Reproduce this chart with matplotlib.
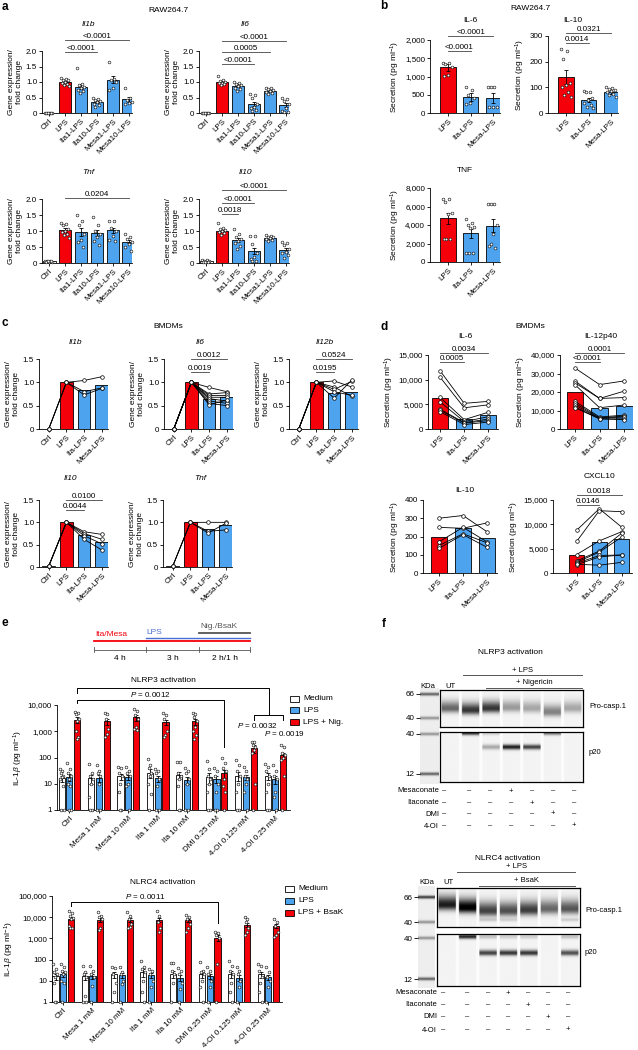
import numpy as np
import matplotlib
matplotlib.use('Agg')
import matplotlib.pyplot as plt
from matplotlib.patches import Rectangle
from matplotlib.ticker import NullLocator

plt.rcParams['font.family'] = ['Liberation Sans', 'DejaVu Sans']
plt.rcParams['font.size'] = 6
plt.rcParams['mathtext.fontset'] = 'custom'
plt.rcParams['mathtext.rm'] = 'Liberation Sans'
plt.rcParams['mathtext.it'] = 'Liberation Sans:italic'
plt.rcParams['axes.linewidth'] = 0.6

W, H = 638, 1050
RED = '#f5000a'
BLUE = '#4ea3ee'
LINE = '#444444'
FS = 5.8

# ---------------- panel a data (RAW264.7 qPCR) ----------------
a_cats = ['Ctrl', 'LPS', 'Ita1-LPS', 'Ita10-LPS', 'Mesa1-LPS', 'Mesa10-LPS']
a_il1b_mean = [0.0, 1.0, 0.85, 0.36, 1.08, 0.44]
a_il1b_sem = [0.0, 0.04, 0.08, 0.04, 0.1, 0.08]
a_il1b_pts = [[0.01] * 8,
              [1.12, 1.1, 1.08, 1.05, 1.0, 0.97, 0.93, 0.9, 0.88],
              [1.45, 0.95, 0.9, 0.85, 0.8, 0.75, 0.7, 0.65],
              [0.5, 0.45, 0.42, 0.38, 0.35, 0.3, 0.25, 0.2],
              [1.65, 1.1, 1.05, 1.0, 0.8, 0.75],
              [0.82, 0.5, 0.42, 0.35, 0.32, 0.3]]
a_il6_mean = [0.0, 1.0, 0.88, 0.3, 0.72, 0.25]
a_il6_sem = [0.0, 0.03, 0.04, 0.07, 0.03, 0.07]
a_il6_pts = [[0.01] * 8,
             [1.2, 1.06, 1.04, 1.0, 0.98, 0.96, 0.93, 0.9],
             [1.0, 0.97, 0.93, 0.9, 0.86, 0.82, 0.77, 0.72],
             [0.62, 0.58, 0.5, 0.3, 0.2, 0.15, 0.1, 0.08],
             [0.82, 0.8, 0.76, 0.73, 0.7, 0.68, 0.65, 0.62],
             [0.5, 0.45, 0.4, 0.3, 0.15, 0.05, 0.03, 0.02]]
a_tnf_mean = [0.05, 1.03, 0.97, 0.93, 1.02, 0.67]
a_tnf_sem = [0.01, 0.05, 0.12, 0.1, 0.08, 0.06]
a_tnf_pts = [[0.06, 0.05, 0.05, 0.04, 0.04, 0.03, 0.05, 0.06],
             [1.25, 1.22, 1.18, 1.05, 1.0, 0.97, 0.92, 0.88, 0.78],
             [1.5, 1.3, 1.2, 0.9, 0.72, 0.65, 0.5],
             [1.45, 1.2, 1.0, 0.9, 0.8, 0.7, 0.55],
             [1.3, 1.3, 1.1, 1.0, 0.85, 0.72, 0.7],
             [0.9, 0.8, 0.75, 0.65, 0.6, 0.5, 0.38]]
a_il10_mean = [0.05, 1.0, 0.72, 0.37, 0.78, 0.4]
a_il10_sem = [0.01, 0.04, 0.06, 0.1, 0.03, 0.06]
a_il10_pts = [[0.1, 0.08, 0.06, 0.05, 0.04, 0.03, 0.03, 0.04],
              [1.25, 1.1, 1.05, 1.02, 1.0, 0.97, 0.93, 0.88],
              [1.05, 0.9, 0.8, 0.75, 0.7, 0.62, 0.52, 0.45],
              [0.85, 0.85, 0.6, 0.3, 0.2, 0.12, 0.06, 0.05],
              [0.88, 0.85, 0.82, 0.8, 0.78, 0.75, 0.72, 0.7],
              [0.65, 0.62, 0.55, 0.45, 0.35, 0.3, 0.25, 0.15]]

# ---------------- panel b data (RAW264.7 secretion) ----------------
b_cats = ['LPS', 'Ita-LPS', 'Mesa-LPS']
b_il6_mean = [1250, 440, 415]
b_il6_sem = [90, 100, 130]
b_il6_pts = [[1380, 1370, 1330, 1250, 1040, 1020],
             [700, 640, 480, 400, 280, 250],
             [700, 700, 700, 170, 170, 170]]
b_il10_mean = [140, 50, 80]
b_il10_sem = [27, 8, 5]
b_il10_pts = [[250, 242, 210, 115, 108, 100, 80, 70, 62],
              [85, 82, 80, 60, 50, 40, 30, 25, 20],
              [100, 98, 92, 88, 85, 80, 75, 70, 62]]
b_tnf_mean = [4750, 3100, 3900]
b_tnf_sem = [600, 500, 700]
b_tnf_pts = [[6800, 6800, 6500, 5300, 5200, 2500, 2500, 2500],
             [4700, 4200, 4000, 3800, 3700, 1000, 1000, 1000],
             [6300, 6300, 6300, 4000, 3000, 1700, 1500, 1900]]

# ---------------- panel c data (BMDM qPCR, paired donors) ----------------
c_cats = ['Ctrl', 'LPS', 'Ita-LPS', 'Mesa-LPS']
c_il1b_bar = [0.0, 1.0, 0.84, 0.95]
c_il1b_don = [[0, 1, 1.04, 1.12], [0, 1, 0.80, 0.88], [0, 1, 0.73, 0.87]]
c_il6_bar = [0.0, 1.0, 0.65, 0.68]
c_il6_don = [[0, 1, 0.89, 0.80], [0, 1, 0.75, 0.78], [0, 1, 0.72, 0.72], [0, 1, 0.68, 0.68],
             [0, 1, 0.65, 0.60], [0, 1, 0.60, 0.55], [0, 1, 0.55, 0.50], [0, 1, 0.52, 0.62]]
c_il12b_bar = [0.0, 1.0, 0.78, 0.80]
c_il12b_don = [[0, 1, 1.03, 0.90], [0, 1, 0.90, 0.70], [0, 1, 0.85, 1.02],
               [0, 1, 0.80, 0.72], [0, 1, 0.66, 1.05]]
c_il10_bar = [0.02, 1.0, 0.72, 0.55]
c_il10_don = [[0.02, 1, 0.79, 0.73], [0.02, 1, 0.75, 0.62], [0.02, 1, 0.70, 0.52], [0.02, 1, 0.62, 0.38]]
c_tnf_bar = [0.02, 1.0, 0.85, 0.93]
c_tnf_don = [[0.02, 1, 1.0, 1.0], [0.02, 1, 0.80, 0.83], [0.02, 1, 0.76, 0.98]]

# ---------------- panel d data (BMDM secretion, paired donors) ----------------
d_cats = ['LPS', 'Ita-LPS', 'Mesa-LPS']
d_il6_bar = [6300, 2100, 2800]
d_il6_don = [[11800, 5200, 5600], [10500, 4300, 4900], [6400, 1900, 3400], [5500, 1500, 2500],
             [4000, 1300, 2000], [3800, 1200, 1700], [3500, 900, 1400]]
d_il12_bar = [19800, 11500, 12600]
d_il12_don = [[33000, 24000, 26000], [26000, 16500, 20500], [25000, 16500, 17000],
              [24000, 11500, 13000], [15000, 6500, 7500], [14000, 6000, 7000],
              [13000, 5800, 6500], [12000, 5500, 5500], [11500, 5500, 5000]]
d_il10_bar = [198, 245, 192]
d_il10_don = [[300, 315, 225], [250, 245, 275], [170, 250, 170], [150, 215, 165], [135, 210, 140]]
d_cx_bar = [3700, 6300, 7000]
d_cx_don = [[8800, 13200, 9400], [6500, 12800, 12600], [3800, 6600, 8500], [2500, 4500, 8200],
            [2200, 4300, 7400], [2000, 3600, 3700], [1700, 3300, 3700], [1800, 1600, 2200]]

# ---------------- panel e data (IL-1beta, log) ----------------
e_groups = ['Ctrl', 'Mesa 1 mM', 'Mesa 10 mM', 'Ita 1 mM', 'Ita 10 mM',
            'DMI 0.25 mM', '4-OI 0.125 mM', '4-OI 0.25 mM']
nlrp3_med = [16, 16, 19, 26, 22, 18, 20, 20]
nlrp3_med_sem = [4, 6, 5, 10, 7, 8, 7, 6]
nlrp3_lps = [18, 17, 18, 16, 14, 15, 18, 15]
nlrp3_lps_sem = [5, 5, 4, 4, 4, 4, 4, 5]
nlrp3_nig = [2700, 2400, 3400, 2300, 2400, 25, 230, 120]
nlrp3_nig_sem = [700, 600, 900, 500, 600, 8, 80, 30]
nlrp3_med_pts = [[35, 30, 25, 20, 18, 15, 8, 1, 1], [55, 25, 20, 15, 10, 3, 1, 1],
                 [45, 40, 25, 20, 10, 5, 1, 1], [90, 50, 40, 25, 20, 10, 4, 1],
                 [70, 70, 25, 20, 15, 8, 1, 1], [75, 35, 20, 15, 10, 5, 1, 1],
                 [80, 50, 30, 20, 10, 5, 1, 1], [55, 45, 30, 20, 10, 5, 1, 1]]
nlrp3_lps_pts = [[60, 35, 25, 20, 15, 10, 8, 1, 1], [50, 30, 25, 20, 10, 1, 1],
                 [45, 30, 25, 20, 10, 8, 1], [35, 30, 25, 15, 8, 1, 1],
                 [40, 30, 25, 15, 10, 1, 1], [40, 30, 20, 10, 5, 1, 1],
                 [45, 30, 20, 15, 10, 5, 1], [50, 30, 20, 15, 5, 3, 1]]
nlrp3_nig_pts = [[5500, 5000, 4500, 3000, 2500, 1000, 600, 500], [5000, 4500, 3000, 1200, 800, 600],
                 [7000, 6000, 4000, 3000, 1500, 1200, 1100], [5000, 4000, 3000, 1000, 700, 600],
                 [5000, 4500, 3500, 2500, 1500, 1000, 700, 500], [95, 60, 40, 30, 15, 8, 5, 1],
                 [400, 400, 300, 250, 200, 150, 10, 1], [300, 250, 150, 120, 100, 80, 20, 1]]

nlrc4_med = [16, 17, 20, 25, 22, 20, 21, 20]
nlrc4_med_sem = [5, 6, 6, 10, 8, 7, 8, 7]
nlrc4_lps = [20, 17, 19, 18, 14, 16, 14, 15]
nlrc4_lps_sem = [5, 5, 5, 5, 4, 4, 4, 4]
nlrc4_bsak = [8500, 7500, 7500, 7500, 7000, 1100, 4500, 4000]
nlrc4_bsak_sem = [1500, 1500, 1500, 1800, 1200, 350, 900, 800]
nlrc4_med_pts = [[60, 35, 25, 20, 15, 8, 1, 1], [50, 25, 20, 15, 2, 1, 1], [45, 40, 20, 8, 3, 1],
                 [90, 45, 35, 25, 10, 3, 1], [70, 70, 30, 20, 8, 1], [80, 30, 25, 20, 10, 5, 1],
                 [90, 50, 30, 20, 8, 3, 1], [60, 50, 30, 15, 8, 3, 1]]
nlrc4_lps_pts = [[60, 45, 30, 25, 20, 10, 8, 1], [50, 30, 20, 15, 6, 1], [45, 25, 20, 10, 7, 1],
                 [35, 30, 20, 10, 5, 1], [40, 30, 20, 8, 4, 1], [45, 30, 20, 10, 5, 1],
                 [45, 30, 20, 10, 5, 1], [45, 25, 15, 10, 5, 1]]
nlrc4_bsak_pts = [[20000, 15000, 12000, 9000, 8000, 4000, 3000, 3000],
                  [18000, 12000, 10000, 8000, 3000, 2500], [18000, 12000, 8000, 5000, 3500, 3000],
                  [20000, 12000, 6000, 3000, 2000], [13000, 10000, 8000, 5000, 3000, 2000],
                  [2000, 1800, 1500, 1000, 60, 1], [10000, 8000, 6000, 3000, 2000, 1500],
                  [8000, 6000, 4000, 2000, 1500, 1200]]

# ---------------- panel f data (capillary western lanes) ----------------
f_rows = ['Mesaconate', 'Itaconate', 'DMI', '4-OI']
f_signs = [[0, 0, 0, 1, 0, 0, 0], [0, 0, 0, 0, 1, 0, 0], [0, 0, 0, 0, 0, 1, 0], [0, 0, 0, 0, 0, 0, 1]]
kda_labels = ['66', '40', '40', '12']
# band intensity per lane, centre (fraction of box height)
p3_pro_int = [0.55, 0.75, 0.75, 0.35, 0.3, 0.45, 0.3]
p3_pro_pos = [0.5, 0.55, 0.5, 0.48, 0.5, 0.6, 0.5]
p3_p20_int = [0, 0, 0.3, 0.85, 0.7, 0, 0]
p3_top_int = [0, 0.75, 0.15, 0, 0, 0.5, 0]
c4_pro_int = [0.85, 1.0, 0.7, 0.65, 0.72, 0.55, 0.62]
c4_pro_pos = [0.45, 0.52, 0.6, 0.6, 0.58, 0.55, 0.55]
c4_low_int = [0, 0, 0.15, 0.12, 0, 0, 0.15]
c4_p20_int = [0, 0, 0.7, 0.75, 0.75, 0, 0.65]
c4_top_int = [0, 0.8, 0.2, 0.15, 0.15, 0, 0.2]

fig = plt.figure(figsize=(W / 100, H / 100), dpi=100)


def px_axes(box):
    x0, y0, x1, y1 = box
    return fig.add_axes([x0 / W, 1 - y1 / H, (x1 - x0) / W, (y1 - y0) / H])


def spread(n, w):
    return w * np.array([((i * 0.618) % 1) * 2 - 1 for i in range(n)])


def base_style(ax):
    for s in ['top', 'right']:
        ax.spines[s].set_visible(False)
    ax.tick_params(length=2, width=0.6, pad=1.5, labelsize=FS)
    ax.patch.set_alpha(0)


def set_cats(ax, cats, xlim):
    ax.set_xticks(np.arange(len(cats)))
    ax.set_xticklabels(cats, rotation=45, ha='right', rotation_mode='anchor', fontsize=FS)
    ax.set_xlim(*xlim)


def set_y(ax, lim, ticks, labels, ylabel):
    ax.set_ylim(*lim)
    ax.set_yticks(ticks)
    ax.set_yticklabels(labels)
    ax.set_ylabel(ylabel, fontsize=6, labelpad=2)


def bracket(ax, x1, x2, y, label):
    ax.plot([x1, x2], [y, y], color=LINE, lw=0.6, clip_on=False)
    ax.text((x1 + x2) / 2, y, label, ha='center', va='bottom', fontsize=FS, clip_on=False)


def dot_bars(ax, means, sems, pts, colors, width):
    x = np.arange(len(means))
    ax.bar(x, means, width, color=colors, edgecolor='black', linewidth=0.6, zorder=2)
    ax.errorbar(x, means, yerr=sems, fmt='none', ecolor='black', elinewidth=0.6,
                capsize=1.5, capthick=0.6, zorder=3)
    for i, p in enumerate(pts):
        ax.scatter(x[i] + spread(len(p), width * 0.33), p, s=4, facecolor='white',
                   edgecolor='black', linewidths=0.4, zorder=4, clip_on=False)


def paired(ax, bars, donors, colors, width):
    x = np.arange(len(bars))
    ax.bar(x, bars, width, color=colors, edgecolor='black', linewidth=0.6, zorder=2)
    for d in donors:
        ax.plot(x, d, color='black', lw=0.6, marker='o', ms=2.6, mfc='white', mec='black',
                mew=0.5, zorder=3, clip_on=False)


def grouped_log(ax, means_l, sems_l, pts_l, colors, offsets, width):
    x = np.arange(len(means_l[0]))
    for m, s, p, c, o in zip(means_l, sems_l, pts_l, colors, offsets):
        m = np.asarray(m, float)
        ax.bar(x + o, m - 1, width, bottom=1, color=c, edgecolor='black', linewidth=0.6, zorder=2)
        ax.errorbar(x + o, m, yerr=s, fmt='none', ecolor='black', elinewidth=0.6,
                    capsize=1.2, capthick=0.6, zorder=3)
        for i, pp in enumerate(p):
            ax.scatter(x[i] + o + spread(len(pp), width * 0.35), pp, s=4, facecolor='white',
                       edgecolor='black', linewidths=0.4, zorder=4, clip_on=False)


def gel_box(ax, bands, n=7, rows=120, cols=280):
    ys = (np.arange(rows) + 0.5) / rows
    xs = (np.arange(cols) + 0.5) / cols * n
    img = np.full((rows, cols), 0.985)
    in_lane = np.abs((xs % 1) - 0.5) < 0.42
    img[:, in_lane] -= 0.03
    for inten, pos, sup, sdn in bands:
        for k in range(n):
            if inten[k] <= 0:
                continue
            sig = np.where(ys < pos[k], sup, sdn)
            prof = np.exp(-0.5 * ((ys - pos[k]) / sig) ** 2)
            cols_k = in_lane & (np.floor(xs) == k)
            img[:, cols_k] -= inten[k] * prof[:, None]
    ax.imshow(np.clip(img, 0, 1), cmap='gray', vmin=0, vmax=1, aspect='auto',
              extent=(0, n, 1, 0), interpolation='bilinear')
    ax.set_xticks([])
    ax.set_yticks([])
    for s in ax.spines.values():
        s.set_linewidth(0.9)


def marker_lane(ax, ypos, strength, ybot, ytop):
    ys = np.linspace(ytop, ybot, 300)
    col = np.full(ys.size, 0.93)
    for y, a in zip(ypos, strength):
        col -= a * np.exp(-0.5 * ((ys - y) / 1.1) ** 2)
    ax.imshow(np.tile(np.clip(col, 0, 1)[:, None], (1, 10)), cmap='gray', vmin=0, vmax=1,
              aspect='auto', extent=(0, 1, ybot, ytop), interpolation='bilinear')
    ax.set_ylim(ybot, ytop)
    ax.set_yticks(ypos)
    ax.set_yticklabels(kda_labels)
    ax.set_xticks([])
    ax.tick_params(axis='y', length=3, width=0.6, pad=1, labelsize=FS)
    for s in ax.spines.values():
        s.set_visible(False)


GENE = 'Gene expression/\nfold change'
SEC = r'Secretion (pg ml$^{-1}$)'
IL1B = r'IL-1$\beta$ (pg ml$^{-1}$)'

# ---------------- panel a ----------------
a_cols = ['white', RED] + [BLUE] * 4
a_specs = [((42, 51, 132, 113), a_il1b_mean, a_il1b_sem, a_il1b_pts,
            [(1, 5, 2.35, '<0.0001'), (1, 3, 1.97, '<0.0001')]),
           ((199, 51, 289, 113), a_il6_mean, a_il6_sem, a_il6_pts,
            [(1, 5, 2.32, '<0.0001'), (1, 4, 1.97, '0.0005'), (1, 3, 1.58, '<0.0001')]),
           ((42, 199, 132, 263), a_tnf_mean, a_tnf_sem, a_tnf_pts,
            [(1, 5, 2.02, '0.0204')]),
           ((199, 199, 289, 263), a_il10_mean, a_il10_sem, a_il10_pts,
            [(1, 5, 2.28, '<0.0001'), (1, 3, 1.88, '<0.0001'), (1, 2, 1.53, '0.0018')])]
for box, m, s, p, brs in a_specs:
    ax = px_axes(box)
    base_style(ax)
    dot_bars(ax, m, s, p, a_cols, 0.8)
    set_cats(ax, a_cats, (-0.45, 5.2))
    set_y(ax, (0, 2.0), [0, 0.5, 1.0, 1.5, 2.0], ['0', '0.5', '1.0', '1.5', '2.0'], GENE)
    for b in brs:
        bracket(ax, *b)

# ---------------- panel b ----------------
b_cols = [RED, BLUE, BLUE]
b_specs = [((430, 40, 500, 113), b_il6_mean, b_il6_sem, b_il6_pts, 2000, 500,
            [(0, 2, 2110, '<0.0001'), (0, 1, 1700, '<0.0001')]),
           ((548, 36, 618, 113), b_il10_mean, b_il10_sem, b_il10_pts, 300, 100,
            [(0, 2, 312, '0.0321'), (0, 1, 273, '0.0014')]),
           ((430, 188, 500, 262), b_tnf_mean, b_tnf_sem, b_tnf_pts, 8000, 2000, [])]
for box, m, s, p, top, step, brs in b_specs:
    ax = px_axes(box)
    base_style(ax)
    dot_bars(ax, m, s, p, b_cols, 0.68)
    set_cats(ax, b_cats, (-0.8, 2.3))
    ticks = np.arange(0, top + 1, step)
    set_y(ax, (0, top), ticks, [f'{int(t):,}' for t in ticks], SEC)
    for b in brs:
        bracket(ax, *b)

# ---------------- panel c ----------------
c_cols = ['white', RED, BLUE, BLUE]
c_specs = [((39, 359, 108, 429), c_il1b_bar, c_il1b_don, []),
           ((164, 359, 233, 429), c_il6_bar, c_il6_don,
            [(1, 3, 1.5, '0.0012'), (1, 2, 1.22, '0.0019')]),
           ((289, 359, 358, 429), c_il12b_bar, c_il12b_don,
            [(1, 3, 1.5, '0.0524'), (1, 2, 1.22, '0.0195')]),
           ((39, 500, 108, 567), c_il10_bar, c_il10_don,
            [(1, 3, 1.5, '0.0100'), (1, 2, 1.28, '0.0044')]),
           ((163, 500, 232, 567), c_tnf_bar, c_tnf_don, [])]
for box, bars, don, brs in c_specs:
    ax = px_axes(box)
    base_style(ax)
    paired(ax, bars, don, c_cols, 0.72)
    set_cats(ax, c_cats, (-0.55, 3.35))
    set_y(ax, (0, 1.5), [0, 0.5, 1.0, 1.5], ['0', '0.5', '1.0', '1.5'], GENE)
    for b in brs:
        bracket(ax, *b)

# ---------------- panel d ----------------
d_specs = [((428, 355, 498, 429), d_il6_bar, d_il6_don, 15000, 5000, (-0.5, 2.4),
            [(0, 2, 15400, '0.0034'), (0, 1, 13580, '0.0005')]),
           ((560, 355, 633, 429), d_il12_bar, d_il12_don, 40000, 10000, (-0.6, 2.35),
            [(0, 2, 41080, '0.0001'), (0, 1, 36200, '<0.0001')]),
           ((423, 500, 497, 573), d_il10_bar, d_il10_don, 400, 100, (-0.65, 2.4), []),
           ((553, 500, 632, 573), d_cx_bar, d_cx_don, 15000, 5000, (-1.05, 2.45),
            [(0, 2, 16030, '0.0018'), (0, 1, 13970, '0.0146')])]
for box, bars, don, top, step, xl, brs in d_specs:
    ax = px_axes(box)
    base_style(ax)
    paired(ax, bars, don, b_cols, 0.66)
    set_cats(ax, d_cats, xl)
    ticks = np.arange(0, top + 1, step)
    set_y(ax, (0, top), ticks, [f'{int(t):,}' for t in ticks], SEC)
    for b in brs:
        bracket(ax, *b)

# ---------------- panel e ----------------
e_cols = ['white', BLUE, RED]
e_off = [-0.26, 0.0, 0.27]
e_specs = [((57, 705, 290, 810), [nlrp3_med, nlrp3_lps, nlrp3_nig],
            [nlrp3_med_sem, nlrp3_lps_sem, nlrp3_nig_sem],
            [nlrp3_med_pts, nlrp3_lps_pts, nlrp3_nig_pts], 1e4, (-0.42, 7.5)),
           ((52, 896, 282, 1002), [nlrc4_med, nlrc4_lps, nlrc4_bsak],
            [nlrc4_med_sem, nlrc4_lps_sem, nlrc4_bsak_sem],
            [nlrc4_med_pts, nlrc4_lps_pts, nlrc4_bsak_pts], 1e5, (-0.38, 7.47))]
e_axes = []
for box, m, s, p, top, xl in e_specs:
    ax = px_axes(box)
    base_style(ax)
    ax.set_yscale('log')
    grouped_log(ax, m, s, p, e_cols, e_off, 0.21)
    set_cats(ax, e_groups, xl)
    ticks = [10 ** k for k in range(int(np.log10(top)) + 1)]
    set_y(ax, (1, top), ticks, [f'{t:,}' for t in ticks], IL1B)
    ax.yaxis.set_minor_locator(NullLocator())
    e_axes.append(ax)

ax = e_axes[0]
ax.plot([0.27, 0.27, 5.27, 5.27], [12000, 15500, 15500, 250], color='black', lw=0.7, clip_on=False)
ax.text(2.75, 16500, '$P$ = 0.0012', ha='center', va='bottom', fontsize=FS)
ax.plot([0.27, 0.27, 6.77, 6.77], [28700, 44500, 44500, 4170], color='black', lw=0.7, clip_on=False)
ax.plot([6.27, 6.27, 7.27, 7.27], [2690, 4170, 4170, 2690], color='black', lw=0.7, clip_on=False)
ax.text(6.4, 1585, '$P$ = 0.0032', ha='center', va='center', fontsize=FS)
ax.text(7.3, 850, '$P$ = 0.0019', ha='center', va='center', fontsize=FS)
ax = e_axes[1]
ax.plot([0.27, 0.27, 5.27, 5.27], [34000, 52000, 52000, 5360], color='black', lw=0.7, clip_on=False)
ax.text(2.8, 56000, '$P$ = 0.0011', ha='center', va='bottom', fontsize=FS)

# ---------------- panel f (gels) ----------------
gel_specs = [((420, 688, 439, 784), [694, 718, 734, 774], [0.55, 0.35, 0.35, 0.55],
              (440, 690, 583, 727), (440, 732, 583, 782),
              [(p3_pro_int, p3_pro_pos, 0.14, 0.08)],
              [(p3_p20_int, [0.3] * 7, 0.035, 0.035), (p3_top_int, [0.02] * 7, 0.03, 0.03)]),
             ((418, 886, 435, 988), [897, 922, 938, 979], [0.7, 0.35, 0.35, 0.55],
              (437, 888, 580, 927), (437, 934, 580, 986),
              [(c4_pro_int, c4_pro_pos, 0.16, 0.09), (c4_low_int, [0.82] * 7, 0.03, 0.03)],
              [(c4_p20_int, [0.365] * 7, 0.04, 0.035), (c4_top_int, [0.05] * 7, 0.03, 0.03)])]
for mbox, mpos, mstr, ubox, lbox, ubands, lbands in gel_specs:
    marker_lane(px_axes(mbox), mpos, mstr, mbox[3], mbox[1])
    gel_box(px_axes(ubox), ubands)
    gel_box(px_axes(lbox), lbands)

# ---------------- overlay: labels, titles, timeline, legends ----------------
ov = fig.add_axes([0, 0, 1, 1], zorder=20)
ov.set_xlim(0, W)
ov.set_ylim(H, 0)
ov.axis('off')


def t(x, y, s, **kw):
    kw.setdefault('fontsize', 6)
    kw.setdefault('ha', 'center')
    kw.setdefault('va', 'center')
    ov.text(x, y, s, **kw)


for x, y, s in [(5, 7, 'a'), (384, 6, 'b'), (5, 323, 'c'), (384, 327, 'd'), (5, 623, 'e'), (384, 624, 'f')]:
    t(x, y, s, fontsize=8.5, fontweight='bold')
for x, y, s in [(168, 10, 'RAW264.7'), (530, 9, 'RAW264.7'), (168, 326, 'BMDMs'), (530, 327, 'BMDMs'),
                (470, 20, 'IL-6'), (573, 20, 'IL-10'), (465, 170, 'TNF'),
                (465, 336, 'IL-6'), (601, 336, 'IL-12p40'), (465, 490, 'IL-10'), (599, 477, 'CXCL10'),
                (163, 681, 'NLRP3 activation'), (163, 882, 'NLRC4 activation'),
                (510, 653, 'NLRP3 activation'), (508, 858, 'NLRC4 activation')]:
    t(x, y, s)
for x, y, s in [(88, 24, 'Il1b'), (245, 24, 'Il6'), (88, 172, 'Tnf'), (245, 172, 'Il10'),
                (75, 342, 'Il1b'), (200, 342, 'Il6'), (325, 342, 'Il12b'), (70, 478, 'Il10'), (200, 478, 'Tnf')]:
    t(x, y, s, style='italic')

# timeline
ov.plot([94, 250], [641, 641], color=RED, lw=1.3)
ov.plot([146, 250], [638, 638], color='#4a6fd0', lw=1.0)
ov.plot([199, 250], [633, 633], color='#555555', lw=1.3)
t(95, 634, 'Ita/Mesa', ha='left', color=RED)
t(146, 632, 'LPS', ha='left', color='#4a6fd0')
t(200, 627, 'Nig./BsaK', ha='left', color='#555555')
ov.plot([94, 250], [650, 650], color='#555555', lw=0.6)
for xt in [94, 146, 199, 250]:
    ov.plot([xt, xt], [647, 652], color='#555555', lw=0.6)
for x, s in [(120, '4 h'), (173, '3 h'), (225, '2 h/1 h')]:
    t(x, 658, s)

# legends of e
for (lx, ly, labels) in [(290, [699, 710, 722], ['Medium', 'LPS', 'LPS + Nig.']),
                         (285, [889, 901, 913], ['Medium', 'LPS', 'LPS + BsaK'])]:
    for yy, lab, col in zip(ly, labels, e_cols):
        ov.add_patch(Rectangle((lx, yy - 3), 9, 6, facecolor=col, edgecolor='black', lw=0.6))
        t(lx + 13, yy, lab, ha='left')

# gel annotations
for (lps_y, lps_x, sub_y, sub_x, sub_lab, kda_y, kda_x, ut_x, right_x, pro_y, p20_y,
     row_y, lab_x, sign_x) in [
        (675, (463, 582), 688, (486, 582), '+ Nigericin', 686, 428, 450, 589, 707, 752,
         [791, 803, 814, 826], 439, [444, 469, 490, 511, 532, 553, 574]),
        (872, (457, 575), 886, (479, 575), '+ BsaK', 883, 427, 448, 585, 910, 953,
         [993, 1005, 1017, 1030], 437, [443, 467, 488, 508, 528, 548, 568])]:
    ov.plot(lps_x, [lps_y, lps_y], color='#555555', lw=0.7)
    t(np.mean(lps_x), lps_y - 5, '+ LPS', fontsize=5.5)
    ov.plot(sub_x, [sub_y, sub_y], color='#555555', lw=0.7)
    t(np.mean(sub_x), sub_y - 6, sub_lab, fontsize=5.5)
    t(kda_x, kda_y, 'KDa', fontsize=5.5)
    t(ut_x, kda_y, 'UT', fontsize=5.5)
    t(right_x, pro_y, 'Pro-casp.1', ha='left', fontsize=5.5)
    t(right_x, p20_y, 'p20', ha='left', fontsize=5.5)
    for yy, name, signs in zip(row_y, f_rows, f_signs):
        t(lab_x, yy, name, ha='right', fontsize=5.5)
        for xx, sg in zip(sign_x, signs):
            t(xx, yy, '+' if sg else '\u2013', fontsize=5.5)

fig.savefig('out.png', dpi=100)
